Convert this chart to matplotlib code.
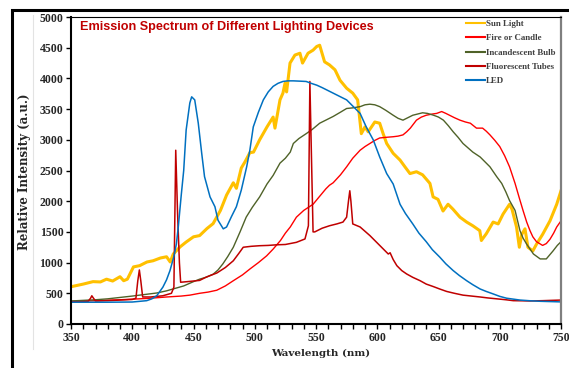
import matplotlib
matplotlib.use("Agg")
import matplotlib.pyplot as plt
from matplotlib.patches import Rectangle
from matplotlib.lines import Line2D

# --- datos ---
sun_wl = [350, 360, 368, 374, 379, 384, 390, 393, 396, 401, 406, 412, 417, 423, 428, 431,
          433.5, 439, 444, 450, 455, 461, 466, 472, 477, 482.5, 485, 489, 492, 496, 499, 504,
          510, 515, 516.5, 520.6, 523, 524.7, 526, 528.8, 532.8, 536.9, 539, 543.5, 547.6,
          550.6, 553, 557, 561, 565.5, 569.6, 575, 580, 584, 587, 590, 592.6, 598, 602, 604.8,
          607.7, 613, 618.6, 622.6, 626.7, 632, 637, 643, 645.6, 649.6, 653.7, 657.8, 661.8,
          667.5, 673, 678, 683.7, 685, 689, 694.6, 698.7, 702.7, 708, 710, 713.7, 716, 718,
          720.6, 723, 727, 730, 735, 741, 746.5, 750]
sun_int = [607, 650, 690, 685, 730, 700, 770, 705, 730, 930, 950, 1010, 1030, 1075, 1095, 1010,
           1140, 1255, 1335, 1420, 1440, 1555, 1635, 1850, 2100, 2300, 2210, 2540, 2640, 2790, 2800, 3000,
           3210, 3370, 3190, 3650, 3760, 3920, 3780, 4250, 4380, 4410, 4250, 4410, 4460,
           4520, 4540, 4270, 4220, 4140, 3970, 3840, 3760, 3650, 3100, 3210, 3130, 3290, 3270, 3100,
           2940, 2780, 2670, 2560, 2450, 2480, 2430, 2290, 2070, 2030, 1840, 1950, 1870,
           1740, 1660, 1600, 1520, 1360, 1470, 1660, 1630, 1790, 1950, 1870, 1580, 1250, 1460,
           1550, 1250, 1190, 1300, 1460, 1680, 1950, 2170]

fire_wl = [350, 370, 390, 401, 415, 428, 440, 447, 455, 462, 469, 476, 482.5, 490, 496, 503,
           509.7, 515, 521, 525, 529, 534, 540, 547.6, 553, 558, 561, 564, 570, 575, 580, 586,
           590, 594, 598, 602, 607, 613, 617, 621, 624, 627, 632, 636, 640, 645, 648.5, 652.6,
           656, 659, 663, 667.5, 672, 676, 681, 686, 689, 692, 696, 700, 704, 708, 712.5, 716,
           719, 722, 724.7, 727, 730, 735, 738, 741, 744, 746.5, 750]
fire_int = [370, 380, 395, 405, 420, 440, 455, 470, 500, 520, 550, 620, 705, 800, 895, 1000,
            1110, 1220, 1360, 1480, 1580, 1740, 1850, 1950, 2080, 2200, 2260, 2300, 2430, 2560, 2700, 2830,
            2890, 2940, 2990, 3030, 3040, 3050, 3060, 3080, 3130, 3190, 3320, 3370, 3400, 3420, 3430, 3460,
            3430, 3400, 3360, 3320, 3290, 3270, 3190, 3190, 3140, 3080, 2990, 2890, 2740, 2560, 2290, 2050,
            1850, 1660, 1520, 1420, 1340, 1280, 1310, 1380, 1480, 1580, 1680]

bulb_wl = [350, 370, 380, 400, 410, 420, 428, 435, 442, 450, 455, 460, 466, 470, 474, 478,
           482.5, 488, 493, 498, 504, 510, 515, 520.6, 525, 529, 531.5, 536, 542, 547, 553, 558,
           564, 570, 575, 580, 586, 590, 594, 598, 602, 607, 613, 617, 621, 625, 629, 633, 637,
           641, 646, 650, 654, 658, 662, 666, 670, 674, 678, 684, 688, 692, 697.5, 701.6, 705,
           708, 712.5, 716.5, 719, 722, 727.5, 733, 738, 743.5, 747, 750]
bulb_int = [375, 395, 410, 455, 480, 505, 540, 580, 620, 690, 730, 760, 810, 880, 980, 1100,
            1250, 1500, 1740, 1900, 2070, 2280, 2420, 2620, 2700, 2800, 2940, 3020, 3100, 3170, 3270, 3320,
            3380, 3450, 3510, 3520, 3540, 3570, 3580, 3570, 3540, 3480, 3400, 3350, 3320, 3360, 3400, 3420, 3440,
            3430, 3400, 3370, 3320, 3230, 3130, 3040, 2940, 2870, 2800, 2720, 2640, 2560, 2400, 2290, 2150,
            2010, 1850, 1520, 1400, 1300, 1140, 1060, 1060, 1190, 1280, 1340]

tube_wl = [350, 360, 364, 366, 367, 368, 370, 380, 390, 400, 403, 404.5, 405.8, 407, 408.5, 415,
           425, 432, 434, 435.5, 437, 438.5, 439.5, 445, 450, 455, 460, 465, 469, 476, 482.5, 487,
           490.6, 497, 504, 511, 518, 525, 534, 541, 543.8, 545, 546, 547.6, 549, 555, 561, 567,
           572, 575, 576.5, 577.6, 578.5, 580, 586, 590, 594, 598, 602, 606, 609, 610.5, 613, 616,
           620, 624, 629, 635, 640, 645.7, 651, 656.7, 663, 670, 677, 684, 690, 697.5, 705, 711,
           718, 724.7, 735, 750]
tube_int = [360, 365, 370, 420, 460, 430, 375, 380, 390, 400, 420, 700, 880, 700, 440, 440,
            460, 500, 600, 2830, 1800, 1000, 680, 690, 700, 710, 760, 800, 830, 920, 1030, 1150,
            1250, 1265, 1275, 1280, 1290, 1295, 1330, 1385, 1600, 3950, 3000, 1500, 1500, 1560, 1600, 1630,
            1660, 1740, 2000, 2170, 2000, 1630, 1580, 1510, 1440, 1360, 1280, 1200, 1140, 1160, 1050, 950,
            870, 815, 760, 705, 650, 610, 570, 530, 500, 470, 455, 440, 425, 410, 395, 380,
            378, 375, 380, 390]

led_wl = [350, 380, 400, 411.8, 416, 420, 425, 428, 430.8, 434, 436, 437.6, 440, 442, 444, 447,
          448.5, 451, 453.9, 456.7, 459, 463.5, 467.5, 470, 474.3, 477, 481, 485, 489, 493.4, 496,
          498.8, 503, 507, 511, 515, 519, 523, 527, 531.5, 537, 542, 546, 550.6, 555, 559, 563,
          567, 571, 575, 580.5, 586, 591, 596.7, 602, 607.7, 613, 618.6, 623, 629, 634, 640, 645,
          651, 656, 662, 667, 673, 678, 684, 689, 694.6, 700, 705.6, 716.5, 725, 733, 750]
led_int = [355, 355, 358, 380, 410, 460, 600, 720, 870, 1100, 1300, 1585, 2100, 2500, 3160, 3600,
           3700, 3650, 3270, 2780, 2400, 2070, 1910, 1690, 1550, 1580, 1750, 1910, 2180, 2560, 2830,
           3210, 3450, 3650, 3780, 3870, 3920, 3950, 3960, 3960, 3955, 3950, 3920, 3890, 3850, 3810, 3770,
           3730, 3690, 3650, 3540, 3430, 3210, 3000, 2720, 2450, 2280, 1950, 1800, 1630, 1480, 1340, 1210,
           1090, 980, 870, 790, 705, 640, 570, 530, 490, 450, 420, 390, 378, 370, 360]

series_names = ["Sun Light", "Fire or Candle", "Incandescent Bulb", "Fluorescent Tubes", "LED"]
series_colors = ["#FFC000", "#FF0000", "#4F6228", "#C00000", "#0070C0"]
series_widths = [2.2, 1.0, 1.0, 1.1, 1.1]

x_ticks = [350, 400, 450, 500, 550, 600, 650, 700, 750]
y_ticks = [0, 500, 1000, 1500, 2000, 2500, 3000, 3500, 4000, 4500, 5000]

W, H = 569, 368
fig = plt.figure(figsize=(W / 100, H / 100), dpi=100)
ax = fig.add_axes([71 / W, 1 - 324 / H, 490 / W, 307 / H])

datos = [(sun_wl, sun_int), (fire_wl, fire_int), (bulb_wl, bulb_int),
         (tube_wl, tube_int), (led_wl, led_int)]
for (wl, val), name, col, lw in zip(datos, series_names, series_colors, series_widths):
    ax.plot(wl, val, color=col, lw=lw, label=name, solid_joinstyle="round")

ax.set_xlim(350, 750)
ax.set_ylim(0, 5000)
ax.set_xticks(x_ticks)
ax.set_xticks(range(350, 751, 10), minor=True)
ax.set_yticks(y_ticks)

tick_font = dict(family="Liberation Serif", weight="bold", size=8.5)
ax.set_xticklabels([str(v) for v in x_ticks], **tick_font, color="#262626")
ax.set_yticklabels([str(v) for v in y_ticks], **tick_font, color="#262626")
ax.tick_params(axis="both", which="both", direction="out", length=3.5, width=1.0, pad=2)

for s in ["left", "bottom"]:
    ax.spines[s].set_linewidth(1.5)
    ax.spines[s].set_color("black")
ax.spines["top"].set_linewidth(0.8)
ax.spines["right"].set_linewidth(1.6)
ax.spines["right"].set_color("#7f7f7f")

fig.text(321 / W, 1 - 353 / H, "Wavelength (nm)", ha="center", va="center",
         family="DejaVu Serif", weight="bold", size=7.5, color="#262626")
fig.text(25 / W, 1 - 172 / H, "Relative Intensity (a.u.)", ha="center", va="center",
         rotation=90, family="DejaVu Serif", weight="bold", size=8.5, color="#262626")

fig.text(80 / W, 1 - 27 / H, "Emission Spectrum of Different Lighting Devices",
         ha="left", va="center", family="Liberation Sans", weight="bold", size=9.1,
         color="#C00000")

handles = [Line2D([], [], color=c, lw=1.5) for c in series_colors]
leg = ax.legend(handles, series_names, loc="upper left",
                bbox_to_anchor=(466 / W, 1 - 20 / H), bbox_transform=fig.transFigure,
                frameon=False, handlelength=2.1, handletextpad=0.15, labelspacing=0.68,
                borderpad=0, borderaxespad=0,
                prop=dict(family="Liberation Serif", weight="bold", size=6.4))
for t in leg.get_texts():
    t.set_color("#404040")

# marco exterior y linea gris del area del grafico
fig.patches.append(Rectangle((11.5 / W, -0.2), 1.2, (1 - 10 / H) + 0.2, transform=fig.transFigure,
                             fill=False, edgecolor="black", lw=2.2))
fig.lines.append(Line2D([33 / W, 33 / W], [1 - 349 / H, 1 - 15 / H], transform=fig.transFigure,
                        color="#e3e3e3", lw=0.8))

fig.savefig("out.png", dpi=100)
